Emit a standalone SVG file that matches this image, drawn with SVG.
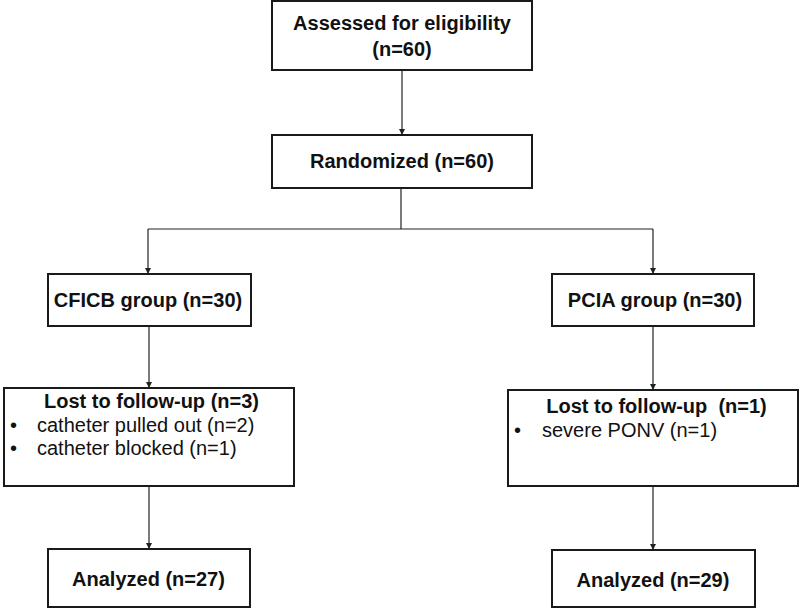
<svg xmlns="http://www.w3.org/2000/svg" width="800" height="609" viewBox="0 0 800 609">
<style>
.box{fill:#fff;stroke:#1a1a1a;stroke-width:2}
.t{font-family:"Liberation Sans",Arial,sans-serif;font-weight:bold;font-size:20px;fill:#111;text-anchor:middle}
.ts{font-family:"Liberation Sans",Arial,sans-serif;font-weight:bold;font-size:20px;fill:#111;text-anchor:middle}
.r{font-family:"Liberation Sans",Arial,sans-serif;font-size:20px;fill:#111}
.c{fill:none;stroke:#222;stroke-width:1.2}
</style>
<defs>
<marker id="ah" viewBox="0 0 10 10" refX="10" refY="5" markerWidth="6" markerHeight="6" markerUnits="userSpaceOnUse" orient="auto">
<path d="M0,0 L10,5 L0,10 z" fill="#222"/>
</marker>
</defs>
<rect width="800" height="609" fill="#fff"/>
<g id="connectors">
<path class="c" d="M402,70 V135" marker-end="url(#ah)"/>
<path class="c" d="M401,188 V229 M148,229 H653"/>
<path class="c" d="M148,229 V274" marker-end="url(#ah)"/>
<path class="c" d="M653,229 V274" marker-end="url(#ah)"/>
<path class="c" d="M149,326 V388" marker-end="url(#ah)"/>
<path class="c" d="M653,326 V390" marker-end="url(#ah)"/>
<path class="c" d="M149,486 V549" marker-end="url(#ah)"/>
<path class="c" d="M653,486 V550" marker-end="url(#ah)"/>
</g>
<g id="assessed">
<rect class="box" x="272" y="1" width="260" height="69"/>
<text class="t" x="402" y="30">Assessed for eligibility</text>
<text class="t" x="402" y="56">(n=60)</text>
</g>
<g id="randomized">
<rect class="box" x="272" y="135" width="260" height="53"/>
<text class="t" x="402" y="168">Randomized (n=60)</text>
</g>
<g id="cficb">
<rect class="box" x="48" y="274" width="203" height="52"/>
<text class="t" x="148" y="307">CFICB group (n=30)</text>
</g>
<g id="pcia">
<rect class="box" x="552" y="274" width="202" height="52"/>
<text class="t" x="655" y="307">PCIA group (n=30)</text>
</g>
<g id="lost-left">
<rect class="box" x="4" y="388" width="290" height="98"/>
<text class="ts" x="151.5" y="408">Lost to follow-up (n=3)</text>
<text class="r" x="10" y="432">•</text>
<text class="r" x="37" y="432">catheter pulled out (n=2)</text>
<text class="r" x="10" y="455">•</text>
<text class="r" x="37" y="455">catheter blocked (n=1)</text>
</g>
<g id="lost-right">
<rect class="box" x="508" y="390" width="290" height="96"/>
<text class="ts" x="656.5" y="413" xml:space="preserve">Lost to follow-up  (n=1)</text>
<text class="r" x="514" y="437">•</text>
<text class="r" x="542" y="437">severe PONV (n=1)</text>
</g>
<g id="analyzed-left">
<rect class="box" x="48" y="549" width="202" height="58"/>
<text class="t" x="148.5" y="586">Analyzed (n=27)</text>
</g>
<g id="analyzed-right">
<rect class="box" x="552" y="550" width="203" height="57"/>
<text class="t" x="653" y="587">Analyzed (n=29)</text>
</g>
</svg>
